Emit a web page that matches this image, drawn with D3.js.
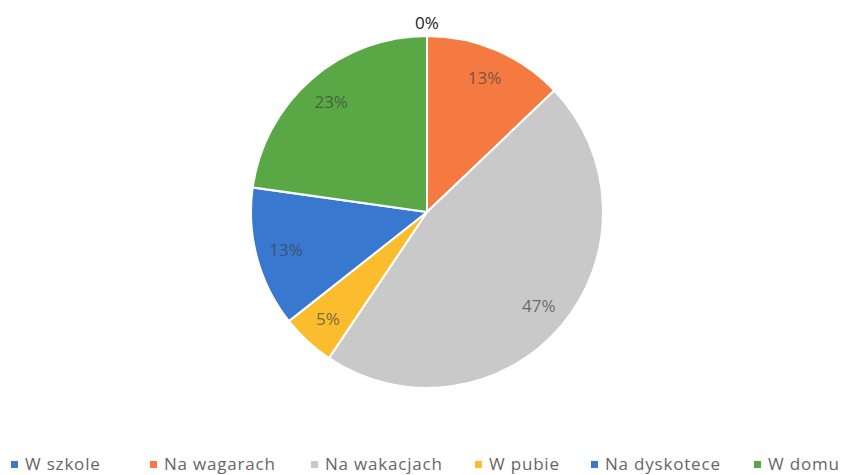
<!DOCTYPE html>
<html>
<head>
<meta charset="utf-8">
<script src="https://d3js.org/d3.v7.min.js"></script>
<style>
  body { margin: 0; background: #fff; }
  svg { display: block; font-family: "Open Sans", "DejaVu Sans", sans-serif; }
</style>
</head>
<body>
<div id="chart"></div>
<script>
// chart data
var categories = ["W szkole", "Na wagarach", "Na wakacjach", "W pubie", "Na dyskotece", "W domu"];
var values = [0, 13, 47, 5, 13, 23];
var colors = ["#3f78c8", "#f47a42", "#c9c9c9", "#fbbd2e", "#3878cf", "#5aa845"];
var legendX = [11, 150, 311, 475, 591, 754];

var width = 846, height = 475;
var cx = 427, cy = 212, radius = 176;

var svg = d3.select("#chart").append("svg")
    .attr("width", width)
    .attr("height", height);

var data = categories.map(function (c, i) { return { name: c, value: values[i], color: colors[i] }; });
var total = d3.sum(values);

var pie = d3.pie().sort(null).value(function (d) { return d.value; });
var arc = d3.arc().innerRadius(0).outerRadius(radius);
var labelArc = d3.arc().innerRadius(radius * 0.83).outerRadius(radius * 0.83);

var g = svg.append("g").attr("transform", "translate(" + cx + "," + cy + ")");
var arcs = pie(data);

g.selectAll("path.slice")
  .data(arcs)
  .enter().append("path")
  .attr("class", "slice")
  .attr("d", arc)
  .attr("fill", function (d) { return d.data.color; })
  .attr("stroke", "#fff")
  .attr("stroke-width", 2);

// percent labels
g.selectAll("text.lbl")
  .data(arcs)
  .enter().append("text")
  .attr("class", "lbl")
  .attr("transform", function (d) {
    if (d.data.value === 0) return "translate(0," + (-radius - 13) + ")";
    var p = labelArc.centroid(d);
    return "translate(" + p[0] + "," + p[1] + ")";
  })
  .attr("text-anchor", "middle")
  .attr("dy", "0.35em")
  .style("font-size", "17px")
  .style("fill", function (d) { return d.data.value === 0 ? "#222" : "#404040"; })
  .style("fill-opacity", function (d) { return d.data.value === 0 ? 1 : 0.7; })
  .text(function (d) { return Math.round(d.data.value / total * 100) + "%"; });

// legend
var leg = svg.selectAll("g.leg")
  .data(data)
  .enter().append("g")
  .attr("class", "leg")
  .attr("transform", function (d, i) { return "translate(" + legendX[i] + ",464)"; });

leg.append("rect")
  .attr("x", 0).attr("y", -3)
  .attr("width", 7).attr("height", 7)
  .attr("fill", function (d) { return d.color; });

leg.append("text")
  .attr("x", 14)
  .attr("dy", "0.35em")
  .style("font-size", "17px")
  .style("letter-spacing", "0.8px")
  .style("fill", "#666")
  .text(function (d) { return d.name; });
</script>
</body>
</html>
